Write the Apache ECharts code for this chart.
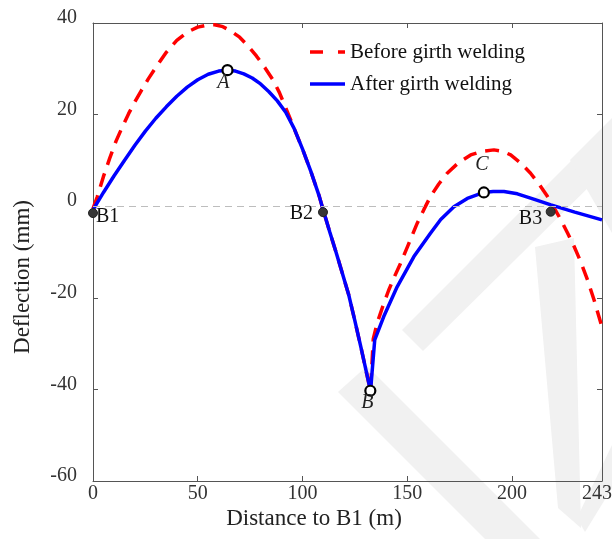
<!DOCTYPE html>
<html><head><meta charset="utf-8">
<script src="https://cdn.jsdelivr.net/npm/echarts@6/dist/echarts.min.js"></script>
<style>html,body{margin:0;padding:0;background:#fff}#chart{width:612px;height:539px}</style>
</head><body><div id="chart"></div>
<script>
const xTicks = [0, 50, 100, 150, 200, 243];
const yMin = -60, yMax = 40, yStep = 20;

const distanceBefore = [0,2,5,8,11,14,17,20,23,26.4,30,35,40,45,50,55,58,62,66,70,74,78,82,86,89,92,96,100,104,108,110,113,116,119,122,125,128,130.5,132.5,133.8,135.6,138.4,141.2,144,146.8,150.8,154.8,158,161.1,165,169.1,174.5,180.3,185.8,191.4,195.4,199.4,204,208.9,213,217,220.2,223.4,226.5,229.7,232.9,236.1,239.3,242.5,243];
const deflectionBefore = [-0.5,2.0,6.5,10.5,14.2,17.3,20.2,22.8,25.2,27.8,30.3,33.6,36.2,38.0,39.1,39.6,39.6,39.2,38.2,36.9,35.0,32.8,30.3,27.5,24.8,21.5,17.0,12.5,7.6,2.2,-1.0,-5.6,-10.0,-14.6,-19.2,-25.0,-31.0,-36.2,-40.3,-29.0,-25.6,-21.8,-18.3,-15.3,-12.5,-8.1,-3.7,-0.7,2.1,4.8,7.2,9.5,11.2,12.0,12.3,12.0,11.2,9.5,7.2,4.8,2.1,-0.4,-3.0,-5.8,-8.8,-12.2,-16.1,-20.6,-25.6,-26.4];

const distanceAfter = [0,5,10,15,20,25,30,35,40,45,50,55,60,64,68,72,76,80,84,88,92,96,100,104,108,110,113,116,119,122,125,128,130.5,132.5,134.5,138.8,145.2,153.2,161.1,166,172.3,178.7,186.6,191,196.2,202.6,210,218.6,230,243];
const deflectionAfter = [-0.8,3.0,6.6,10.0,13.3,16.4,19.2,21.7,24.0,26.0,27.6,28.8,29.5,29.7,29.5,28.9,28.0,26.7,25.0,23.0,20.5,17.0,12.5,7.6,2.2,-1.0,-5.6,-10.0,-14.6,-19.2,-25.0,-31.0,-36.2,-40.3,-29.2,-24.1,-17.6,-11.0,-5.9,-2.9,-0.1,1.7,3.0,3.2,3.2,2.7,1.6,0.3,-1.3,-3.0];

const supportNames = ['B1', 'B2', 'B3'];
const supportX = [0, 109.8, 218.5];
const supportY = [-1.5, -1.3, -1.2];

const pointNames = ['A', 'B', 'C'];
const pointX = [64.2, 132.4, 186.6];
const pointY = [29.7, -40.3, 3.0];

const FONT = '"Liberation Serif", "Times New Roman", serif';
const pairs = (xs, ys) => xs.map((x, i) => [x, ys[i]]);

const supportLabel = [
  { position: 'right', distance: -2, offset: [0, 4] },
  { position: 'left', distance: 5, offset: [0, 2] },
  { position: 'left', distance: 3.5, offset: [0, 7] }
];
const pointLabel = [
  { position: 'bottom', distance: -4, offset: [-4, 0] },
  { position: 'bottom', distance: -4, offset: [-3, 0] },
  { position: 'top', distance: 12, offset: [-2, 0] }
];

const chart = echarts.init(document.getElementById('chart'), null, { renderer: 'canvas' });

const wm = '#f1f1f1';
const poly = (pts) => ({ type: 'polygon', z: -10, silent: true, shape: { points: pts }, style: { fill: wm } });

const axisCommon = {
  axisLine: { show: true, onZero: false, lineStyle: { color: '#555', width: 1 } },
  axisTick: { show: true, inside: true, length: 5, lineStyle: { color: '#555' } },
  splitLine: { show: false }
};

const xMax = xTicks[xTicks.length - 1];

chart.setOption({
  backgroundColor: '#fff',
  animation: false,
  graphic: [
    poly([[338,392],[367,366],[540,539],[485,539]]),
    poly([[402,330],[423,351],[612,164],[612,120]]),
    poly([[570,160],[612,118],[612,233]]),
    poly([[535,247],[574,238],[581,528],[558,508]]),
    poly([[612,445],[612,488],[585,532],[577,518]]),
    { type: 'text', z: 10, x: 314, y: 519, style: { text: 'Distance to B1 (m)', font: '23px ' + FONT, fill: '#222', align: 'center', verticalAlign: 'middle' } },
    { type: 'text', z: 10, x: 23, y: 277, rotation: Math.PI / 2, style: { text: 'Deflection (mm)', font: '23px ' + FONT, fill: '#222', align: 'center', verticalAlign: 'middle' } }
  ],
  grid: { left: 93, right: 10, top: 23, bottom: 58, containLabel: false, outerBoundsMode: 'none' },
  legend: {
    left: 310, top: 41, orient: 'vertical', padding: 0,
    itemWidth: 35, itemHeight: 3.5, itemGap: 10, symbolKeepAspect: false,
    textStyle: { fontFamily: FONT, fontSize: 21, color: '#111', lineHeight: 22 },
    data: [
      { name: 'Before girth welding', icon: 'path://M0 0h13v3.5H0z M28 0h7v3.5h-7z' },
      { name: 'After girth welding', icon: 'rect' }
    ]
  },
  xAxis: [
    Object.assign({}, axisCommon, {
      type: 'value', min: xTicks[0], max: xMax, position: 'bottom',
      axisTick: Object.assign({}, axisCommon.axisTick, { customValues: xTicks }),
      axisLabel: {
        customValues: xTicks, fontFamily: FONT, fontSize: 20, color: '#333', margin: 3,
        formatter: v => v === xMax ? '{m|' + v + '}' : String(v),
        rich: { m: { fontFamily: FONT, fontSize: 20, color: '#333', padding: [0, 10, 0, 0] } }
      }
    }),
    Object.assign({}, axisCommon, {
      type: 'value', min: xTicks[0], max: xMax, position: 'top',
      axisTick: Object.assign({}, axisCommon.axisTick, { customValues: xTicks }),
      axisLabel: { show: false }
    })
  ],
  yAxis: [
    Object.assign({}, axisCommon, {
      type: 'value', min: yMin, max: yMax, interval: yStep, position: 'left',
      axisLabel: { fontFamily: FONT, fontSize: 20, color: '#333', margin: 16, verticalAlign: 'bottom', lineHeight: 10 }
    }),
    Object.assign({}, axisCommon, {
      type: 'value', min: yMin, max: yMax, interval: yStep, position: 'right',
      axisLabel: { show: false }
    })
  ],
  series: [
    {
      name: 'Before girth welding', type: 'line', symbol: 'none', z: 3,
      data: pairs(distanceBefore, deflectionBefore),
      lineStyle: { color: '#ff0000', width: 3.5, type: [14, 9] },
      itemStyle: { color: '#ff0000' },
      markLine: {
        silent: true, symbol: 'none', label: { show: false },
        lineStyle: { color: '#bdbdbd', width: 1, type: [7, 5] },
        data: [{ yAxis: 0 }]
      }
    },
    {
      name: 'After girth welding', type: 'line', symbol: 'none', z: 4,
      data: pairs(distanceAfter, deflectionAfter),
      lineStyle: { color: '#0000ff', width: 3.5, type: 'solid' },
      itemStyle: { color: '#0000ff' }
    },
    {
      name: 'supports', type: 'scatter', z: 6, symbol: 'circle', symbolSize: 9,
      itemStyle: { color: '#363636', borderColor: '#222', borderWidth: 1, opacity: 1 },
      data: supportNames.map((n, i) => ({
        name: n, value: [supportX[i], supportY[i]],
        label: Object.assign({ show: true, formatter: n, fontFamily: FONT, fontSize: 20, color: '#111', lineHeight: 20 }, supportLabel[i])
      }))
    },
    {
      name: 'points', type: 'scatter', z: 7, symbol: 'circle', symbolSize: 10,
      itemStyle: { color: '#fff', borderColor: '#000', borderWidth: 2.2, opacity: 1 },
      data: pointNames.map((n, i) => ({
        name: n, value: [pointX[i], pointY[i]],
        label: Object.assign({ show: true, formatter: n, fontFamily: FONT, fontStyle: 'italic', fontSize: 20, color: '#222', lineHeight: 20 }, pointLabel[i])
      }))
    }
  ]
});
</script>
</body></html>
